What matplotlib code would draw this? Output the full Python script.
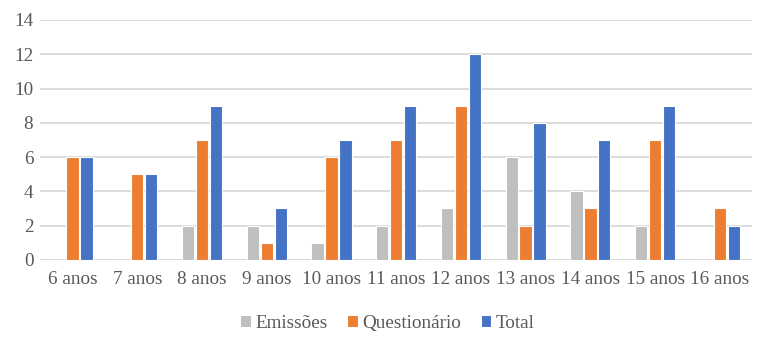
import matplotlib
matplotlib.use("Agg")
import matplotlib.pyplot as plt
import numpy as np

categories = ["6 anos", "7 anos", "8 anos", "9 anos", "10 anos", "11 anos",
              "12 anos", "13 anos", "14 anos", "15 anos", "16 anos"]
emissoes = [0, 0, 2, 2, 1, 2, 3, 6, 4, 2, 0]
questionario = [6, 5, 7, 1, 6, 7, 9, 2, 3, 7, 3]
total = [6, 5, 9, 3, 7, 9, 12, 8, 7, 9, 2]
series_names = ["Emissões", "Questionário", "Total"]
colors = ["#BFBFBF", "#ED7D31", "#4472C4"]
yticks = [0, 2, 4, 6, 8, 10, 12, 14]

plt.rcParams['font.family'] = ['Liberation Serif', 'DejaVu Serif']
txt = "#595959"
fs = 13.8

fig = plt.figure(figsize=(7.59, 3.38), dpi=100)
ax = fig.add_axes([0.053, 0.231, 0.938, 0.71])

x = np.arange(len(categories))
offs = [-0.216, 0, 0.216]
w = 0.19
for vals, name, c, o in zip([emissoes, questionario, total], series_names, colors, offs):
    ax.bar(x + o, vals, width=w, color=c, edgecolor="white", linewidth=0.8, label=name, zorder=3)

ax.set_xlim(-0.5, len(categories) - 0.5)
ax.set_ylim(0, 14)
ax.set_yticks(yticks)
ax.set_xticks(x)
ax.set_xticklabels(categories)
ax.yaxis.grid(True, color="#D9D9D9", linewidth=1.3, zorder=0)
ax.set_axisbelow(True)
for s in ax.spines.values():
    s.set_visible(False)
ax.tick_params(axis="both", length=0, labelsize=fs, colors=txt, labelcolor=txt)
ax.tick_params(axis="x", pad=8)
ax.tick_params(axis="y", pad=5)
ax.axhline(0, color="#D9D9D9", linewidth=1.3, zorder=1)

leg = ax.legend(loc="center", bbox_to_anchor=(0.5 - 0.012, -0.265), ncol=3, frameon=False,
                fontsize=fs, handlelength=0.55, handleheight=0.55, handletextpad=0.25,
                columnspacing=1.0)
for t in leg.get_texts():
    t.set_color(txt)

fig.savefig("out.png", dpi=100)
